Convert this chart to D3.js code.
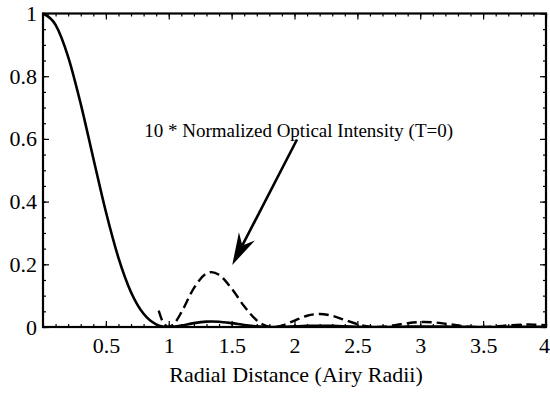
<!DOCTYPE html>
<html>
<head>
<meta charset="utf-8">
<script src="https://cdn.jsdelivr.net/npm/d3@7"></script>
<style>
  html, body { margin: 0; padding: 0; background: #fff; }
  svg { display: block; }
  text { font-family: "Liberation Serif", "Times New Roman", serif; fill: #000; }
</style>
</head>
<body>
<svg id="chart" width="550" height="403"></svg>
<script>
// ---- data ----
const radius = [0,0.1,0.2,0.3,0.4,0.5,0.6,0.7,0.8,0.9,0.95,1.0,1.05,1.1,1.2,1.3,1.34,1.4,1.5,1.6,1.7,1.75,1.8,1.83,1.9,2.0,2.1,2.2,2.3,2.4,2.5,2.6,2.655,2.7,2.8,2.9,3.0,3.03,3.1,3.2,3.3,3.4,3.477,3.5,3.6,3.7,3.8,3.86,3.9,4.0];
const intensity = [1,0.9639,0.8619,0.7118,0.5384,0.3675,0.2207,0.1111,0.0421,0.0085,0.00187,0,0.0014,0.00464,0.01241,0.01708,0.0175,0.01664,0.01227,0.0066,0.00212,0.00077,0.00011,0,0.00045,0.00205,0.00359,0.00416,0.00357,0.00225,0.00091,0.00011,0,0.00007,0.00057,0.00121,0.00158,0.0016,0.0015,0.00105,0.0005,0.0001,0,0.00001,0.0002,0.0005,0.00074,0.00078,0.00076,0.00059];

const dashRadius = [0.92,0.95,1.0,1.05,1.1,1.2,1.3,1.34,1.4,1.5,1.6,1.7,1.75,1.8,1.83,1.9,2.0,2.1,2.2,2.3,2.4,2.5,2.6,2.655,2.7,2.8,2.9,3.0,3.03,3.1,3.2,3.3,3.4,3.477,3.5,3.6,3.7,3.8,3.86,3.9,4.0];
const dashIntensity = [0.052,0.0187,0,0.014,0.0464,0.1241,0.1708,0.175,0.1664,0.1227,0.066,0.0212,0.0077,0.0011,0,0.0045,0.0205,0.0359,0.0416,0.0357,0.0225,0.0091,0.0011,0,0.0007,0.0057,0.0121,0.0158,0.016,0.015,0.0105,0.005,0.001,0,0.0001,0.002,0.005,0.0074,0.0078,0.0076,0.0059];

const xTickValues = [0.5,1,1.5,2,2.5,3,3.5,4];
const xTickLabels = ["0.5","1","1.5","2","2.5","3","3.5","4"];
const xMinorTicks = d3.range(0, 41).map(i => i / 10);
const yTickValues = [0,0.2,0.4,0.6,0.8,1];
const yTickLabels = ["0","0.2","0.4","0.6","0.8","1"];
const yMinorTicks = d3.range(0, 21).map(i => i / 20);

const xTitle = "Radial Distance (Airy Radii)";
const annotationText = "10 * Normalized Optical Intensity (T=0)";
const annotationPos = [0.805, 0.605];   // data coords of text start
const arrowFrom = [2.02, 0.598];
const arrowTo = [1.505, 0.198];

// ---- layout ----
const svg = d3.select("#chart");
const mLeft = 43, mRight = 546, mTop = 13.5, mBottom = 327;
const x = d3.scaleLinear().domain([0, 4]).range([mLeft, mRight]);
const y = d3.scaleLinear().domain([0, 1]).range([mBottom, mTop]);

svg.append("defs").append("clipPath").attr("id", "clip")
  .append("rect").attr("x", mLeft).attr("y", mTop - 2)
  .attr("width", mRight - mLeft).attr("height", mBottom - mTop + 2);

// curves
const solidData = radius.map((r, i) => [r, intensity[i]]);
const dashData = dashRadius.map((r, i) => [r, dashIntensity[i]]);
const line = d3.line().x(d => x(d[0])).y(d => y(d[1])).curve(d3.curveMonotoneX);

const plot = svg.append("g").attr("clip-path", "url(#clip)");
plot.append("path").datum(dashData).attr("d", line)
  .attr("fill", "none").attr("stroke", "#000").attr("stroke-width", 2.4)
  .attr("stroke-dasharray", "10,5");
plot.append("path").datum(solidData).attr("d", line)
  .attr("fill", "none").attr("stroke", "#000").attr("stroke-width", 2.6);

// axes (Mathematica-style frame, inward ticks)
svg.append("g").attr("transform", `translate(0,${mBottom})`)
  .call(d3.axisBottom(x).tickValues(xMinorTicks).tickSize(-3).tickSizeOuter(0).tickFormat(""));
const gx = svg.append("g").attr("transform", `translate(0,${mBottom})`)
  .call(d3.axisBottom(x).tickValues(xTickValues).tickSize(-6).tickSizeOuter(0)
    .tickFormat((d, i) => xTickLabels[i]).tickPadding(10));
svg.append("g").attr("transform", `translate(0,${mTop})`)
  .call(d3.axisTop(x).tickValues(xMinorTicks).tickSize(-3).tickSizeOuter(0).tickFormat(""));
svg.append("g").attr("transform", `translate(0,${mTop})`)
  .call(d3.axisTop(x).tickValues(xTickValues).tickSize(-6).tickSizeOuter(0).tickFormat(""));
svg.append("g").attr("transform", `translate(${mLeft},0)`)
  .call(d3.axisLeft(y).tickValues(yMinorTicks).tickSize(-3).tickSizeOuter(0).tickFormat(""));
svg.append("g").attr("transform", `translate(${mLeft},0)`)
  .call(d3.axisLeft(y).tickValues(yTickValues).tickSize(-6).tickSizeOuter(0)
    .tickFormat((d, i) => yTickLabels[i]).tickPadding(6));
svg.append("g").attr("transform", `translate(${mRight},0)`)
  .call(d3.axisRight(y).tickValues(yMinorTicks).tickSize(-3).tickSizeOuter(0).tickFormat(""));
svg.append("g").attr("transform", `translate(${mRight},0)`)
  .call(d3.axisRight(y).tickValues(yTickValues).tickSize(-6).tickSizeOuter(0).tickFormat(""));

svg.selectAll(".domain").remove();
svg.selectAll(".tick line").attr("stroke", "#000").attr("stroke-width", 1.2);
svg.selectAll(".tick text")
  .attr("font-family", null)
  .style("font-family", '"Liberation Serif", "Times New Roman", serif')
  .style("font-size", "22px").attr("fill", "#000");
// keep last x label inside the picture
gx.selectAll(".tick text").filter((d, i) => i === xTickValues.length - 1).attr("dx", "-2");

// frame
svg.append("rect").attr("x", mLeft).attr("y", mTop)
  .attr("width", mRight - mLeft).attr("height", mBottom - mTop)
  .attr("fill", "none").attr("stroke", "#000").attr("stroke-width", 2.2);

// x title
svg.append("text").attr("x", 296).attr("y", 382)
  .attr("text-anchor", "middle").style("font-size", "22px").text(xTitle);

// annotation
svg.append("text").attr("x", x(annotationPos[0])).attr("y", y(annotationPos[1]))
  .style("font-size", "19px").text(annotationText);

// arrow
const ax0 = x(arrowFrom[0]), ay0 = y(arrowFrom[1]);
const ax1 = x(arrowTo[0]), ay1 = y(arrowTo[1]);
const ang = Math.atan2(ay1 - ay0, ax1 - ax0);
const headLen = 32, headHalf = 9, notch = 22;
const ux = Math.cos(ang), uy = Math.sin(ang), px = -uy, py = ux;
svg.append("line").attr("x1", ax0).attr("y1", ay0)
  .attr("x2", ax1 - ux * notch).attr("y2", ay1 - uy * notch)
  .attr("stroke", "#000").attr("stroke-width", 2.6);
const head = [
  [ax1, ay1],
  [ax1 - ux * headLen + px * headHalf, ay1 - uy * headLen + py * headHalf],
  [ax1 - ux * notch, ay1 - uy * notch],
  [ax1 - ux * headLen - px * headHalf, ay1 - uy * headLen - py * headHalf]
];
svg.append("path").attr("d", "M" + head.map(p => p.join(",")).join("L") + "Z")
  .attr("fill", "#000");
</script>
</body>
</html>
